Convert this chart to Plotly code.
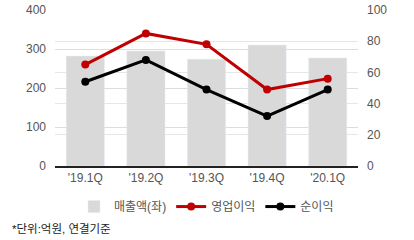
import plotly.graph_objects as go

quarters = ["'19.1Q", "'19.2Q", "'19.3Q", "'19.4Q", "'20.1Q"]
sales = [282, 295, 274, 310, 277]
op_profit = [65, 85, 78, 49, 56]
net_profit = [54, 68, 49, 32, 49]

FONT = "Liberation Sans, Arial, Noto Sans CJK KR, sans-serif"

fig = go.Figure()
fig.add_trace(go.Bar(x=quarters, y=sales, name="매출액(좌)", marker_color="#d9d9d9", yaxis="y"))
fig.add_trace(go.Scatter(x=quarters, y=op_profit, name="영업이익", mode="lines+markers",
                         line=dict(color="#c00000", width=3), marker=dict(size=8, color="#c00000"), yaxis="y2"))
fig.add_trace(go.Scatter(x=quarters, y=net_profit, name="순이익", mode="lines+markers",
                         line=dict(color="#000000", width=3), marker=dict(size=8, color="#000000"), yaxis="y2"))

fig.update_layout(
    width=414, height=240,
    margin=dict(l=55, r=56, t=10, b=74, autoexpand=False),
    plot_bgcolor="white", paper_bgcolor="white",
    bargap=0.37,
    font=dict(family=FONT, size=12, color="#555555"),
    xaxis=dict(showgrid=False, showline=True, linecolor="#222222", linewidth=1.5,
               tickfont=dict(size=12, color="#555555"), ticks="", automargin=False),
    yaxis=dict(range=[0, 400], dtick=100, showgrid=True, gridcolor="#dddddd", gridwidth=1,
               zeroline=False, tickfont=dict(size=12, color="#555555"), ticklabelstandoff=8,
               automargin=False),
    yaxis2=dict(range=[0, 100], dtick=20, overlaying="y", side="right", showgrid=True,
                gridcolor="#e6e6e6", gridwidth=1, zeroline=False,
                tickfont=dict(size=12, color="#555555"), ticklabelstandoff=8, automargin=False),
    legend=dict(orientation="h", x=0.5, xanchor="center", y=-0.26, yanchor="middle",
                font=dict(size=12, color="#555555"), itemwidth=30, traceorder="normal"),
    showlegend=True,
    annotations=[dict(text="*단위:억원, 연결기준", xref="paper", yref="paper", x=-0.149, y=-0.40,
                      xanchor="left", yanchor="middle", showarrow=False,
                      font=dict(size=11.5, color="#222222"))],
)

fig.write_html("out.html")
